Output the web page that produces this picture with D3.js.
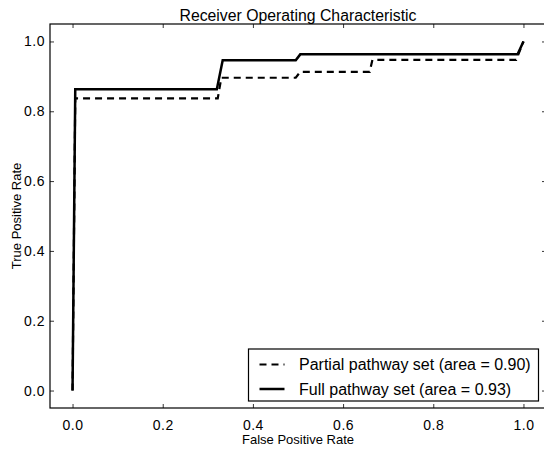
<!DOCTYPE html>
<html>
<head>
<meta charset="utf-8">
<script src="https://cdn.jsdelivr.net/npm/d3@7.9.0/dist/d3.min.js"></script>
<style>
  html, body { margin: 0; padding: 0; background: #fff; }
  svg { display: block; font-family: "Liberation Sans", Arial, Helvetica, sans-serif; }
</style>
</head>
<body>
<svg id="chart"></svg>
<script>
// ROC points
const fprPartial = [0, 0.006, 0.322, 0.330, 0.495, 0.505, 0.659, 0.665, 0.984, 1.0];
const tprPartial = [0, 0.837, 0.837, 0.896, 0.896, 0.913, 0.913, 0.947, 0.947, 1.0];
const fprFull = [0, 0.006, 0.320, 0.333, 0.495, 0.505, 0.987, 1.0];
const tprFull = [0, 0.863, 0.863, 0.946, 0.946, 0.963, 0.963, 1.0];

const seriesNames = ['Partial pathway set (area = 0.90)', 'Full pathway set (area = 0.93)'];
const tickValues = [0, 0.2, 0.4, 0.6, 0.8, 1.0];

const width = 544;
const height = 452;
const margin = { top: 24, right: -2, bottom: 44, left: 50 };

const svg = d3.select('#chart')
  .attr('width', width)
  .attr('height', height);

svg.append('rect').attr('width', width).attr('height', height).attr('fill', '#fff');

const x = d3.scaleLinear()
  .domain([-0.05, 1.05])
  .range([margin.left, width - margin.right]);

const y = d3.scaleLinear()
  .domain([-0.05, 1.05])
  .range([height - margin.bottom, margin.top]);

const fmt = d3.format('.1f');
const tickLen = 4;

// axes with inward ticks on all four sides
const axBottom = svg.append('g')
  .attr('transform', `translate(0,${y.range()[0]})`)
  .call(d3.axisBottom(x).tickValues(tickValues).tickFormat(fmt).tickSizeInner(-tickLen).tickSizeOuter(0).tickPadding(12));
const axTop = svg.append('g')
  .attr('transform', `translate(0,${y.range()[1]})`)
  .call(d3.axisTop(x).tickValues(tickValues).tickFormat('').tickSizeInner(-tickLen).tickSizeOuter(0));
const axLeft = svg.append('g')
  .attr('transform', `translate(${x.range()[0]},0)`)
  .call(d3.axisLeft(y).tickValues(tickValues).tickFormat(fmt).tickSizeInner(-tickLen).tickSizeOuter(0).tickPadding(5));
const axRight = svg.append('g')
  .attr('transform', `translate(${x.range()[1]},0)`)
  .call(d3.axisRight(y).tickValues(tickValues).tickFormat('').tickSizeInner(-tickLen).tickSizeOuter(0));

[axBottom, axTop, axLeft, axRight].forEach(g => {
  g.select('.domain').remove();
  g.selectAll('.tick line').attr('stroke', '#000').attr('stroke-width', 0.8);
  g.selectAll('.tick text')
    .attr('fill', '#000')
    .style('font-family', '"Liberation Sans", Arial, sans-serif')
    .style('font-size', '14px')
    .style('letter-spacing', '0.5px');
});

// frame
svg.append('rect')
  .attr('x', x.range()[0])
  .attr('y', y.range()[1])
  .attr('width', x.range()[1] - x.range()[0])
  .attr('height', y.range()[0] - y.range()[1])
  .attr('fill', 'none')
  .attr('stroke', '#000')
  .attr('stroke-width', 1.2);

// curves
const line = d3.line().x(d => x(d[0])).y(d => y(d[1]));
const partial = d3.zip(fprPartial, tprPartial);
const full = d3.zip(fprFull, tprFull);

svg.append('path')
  .datum(partial)
  .attr('d', line)
  .attr('fill', 'none')
  .attr('stroke', '#000')
  .attr('stroke-width', 2.2)
  .attr('stroke-dasharray', '7,5');

svg.append('path')
  .datum(full)
  .attr('d', line)
  .attr('fill', 'none')
  .attr('stroke', '#000')
  .attr('stroke-width', 2.5);

// titles
const cx = (x.range()[0] + x.range()[1]) / 2;
svg.append('text')
  .attr('x', cx)
  .attr('y', 21)
  .attr('text-anchor', 'middle')
  .style('font-size', '15.8px')
  .text('Receiver Operating Characteristic');

svg.append('text')
  .attr('x', cx)
  .attr('y', 444)
  .attr('text-anchor', 'middle')
  .style('font-size', '13px')
  .text('False Positive Rate');

svg.append('text')
  .attr('transform', `translate(21,${(y.range()[0] + y.range()[1]) / 2}) rotate(-90)`)
  .attr('text-anchor', 'middle')
  .style('font-size', '13px')
  .text('True Positive Rate');

// legend, lower right
const legW = 290, legH = 52;
const legX = x.range()[1] - 7.5 - legW;
const legY = y.range()[0] - 7 - legH;
const legend = svg.append('g').attr('transform', `translate(${legX},${legY})`);

legend.append('rect')
  .attr('width', legW)
  .attr('height', legH)
  .attr('fill', '#fff')
  .attr('stroke', '#000')
  .attr('stroke-width', 1.2);

const styles = [{ dash: '7,5', w: 2.2 }, { dash: null, w: 2.5 }];
seriesNames.forEach((name, i) => {
  const ry = 15.5 + i * 24.5;
  legend.append('line')
    .attr('x1', 11).attr('x2', 36)
    .attr('y1', ry).attr('y2', ry)
    .attr('stroke', '#000')
    .attr('stroke-width', styles[i].w)
    .attr('stroke-dasharray', styles[i].dash);
  legend.append('text')
    .attr('x', 50.5)
    .attr('y', ry)
    .attr('dy', '0.36em')
    .style('font-size', '16px')
    .text(name);
});
</script>
</body>
</html>
